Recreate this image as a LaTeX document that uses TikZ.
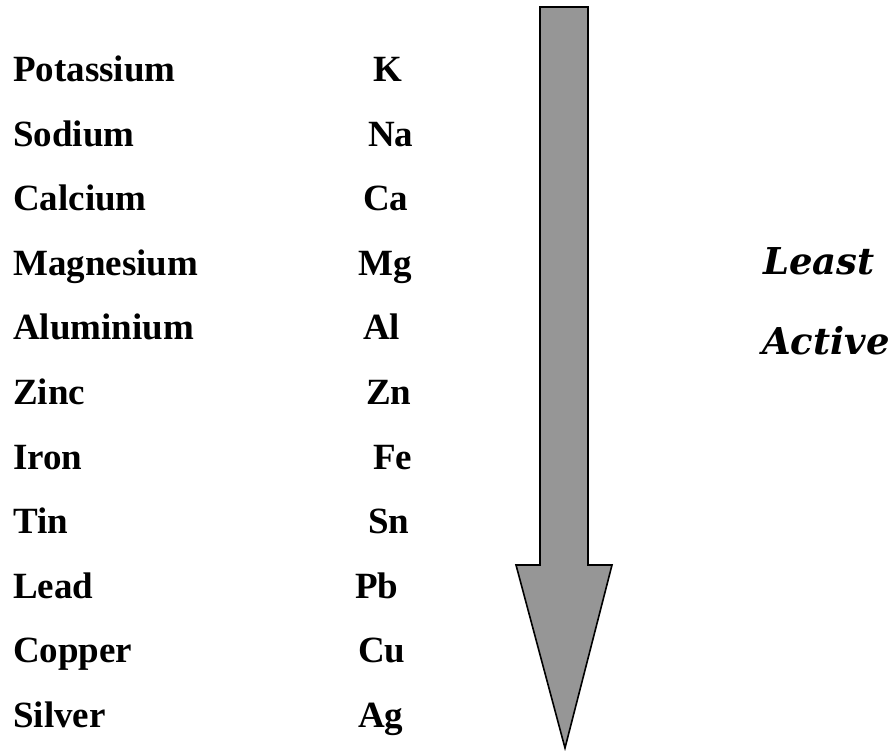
\documentclass[tikz,border=0pt]{standalone}
\usepackage{fontspec}
\setmainfont{Liberation Serif}
\newfontfamily\actfont{DejaVu Serif}
\usetikzlibrary{positioning}
\definecolor{arrowgray}{HTML}{969696}

\begin{document}
\begin{tikzpicture}[x=1pt,y=-1pt,
  elem/.style={font=\fontsize{37}{44}\selectfont\bfseries,anchor=base west,inner sep=0pt},
  act/.style={font=\actfont\fontsize{37}{44}\selectfont\bfseries\itshape,anchor=base west,inner sep=0pt},
  bigarrow/.style={draw=black,fill=arrowgray,line width=1.6pt,line join=miter}]

\useasboundingbox (0,0) rectangle (895,751);

% ---- elements and symbols ----
\foreach \i/\nm/\sy/\sx in {0/Potassium/K/373,1/Sodium/Na/368,2/Calcium/Ca/363,
    3/Magnesium/Mg/358,4/Aluminium/Al/363,5/Zinc/Zn/366,6/Iron/Fe/373,
    7/Tin/Sn/368,8/Lead/Pb/355,9/Copper/Cu/358,10/Silver/Ag/358}{
  \pgfmathsetmacro{\yy}{82+\i*64.5}
  \node[elem] (el-\i) at (13,\yy) {\nm};
  \node[elem] (sym-\i) at (\sx,\yy) {\sy};
}

% ---- activity arrow ----
\draw[bigarrow] (540,7) -- (588,7) -- (588,565) -- (612,565) -- (565,748)
  -- (516,565) -- (540,565) -- cycle;

% ---- side label ----
\node[act] (least) at (763,275) {Least};
\node[act] (active) at (762,355) {Active};

\end{tikzpicture}
\end{document}
